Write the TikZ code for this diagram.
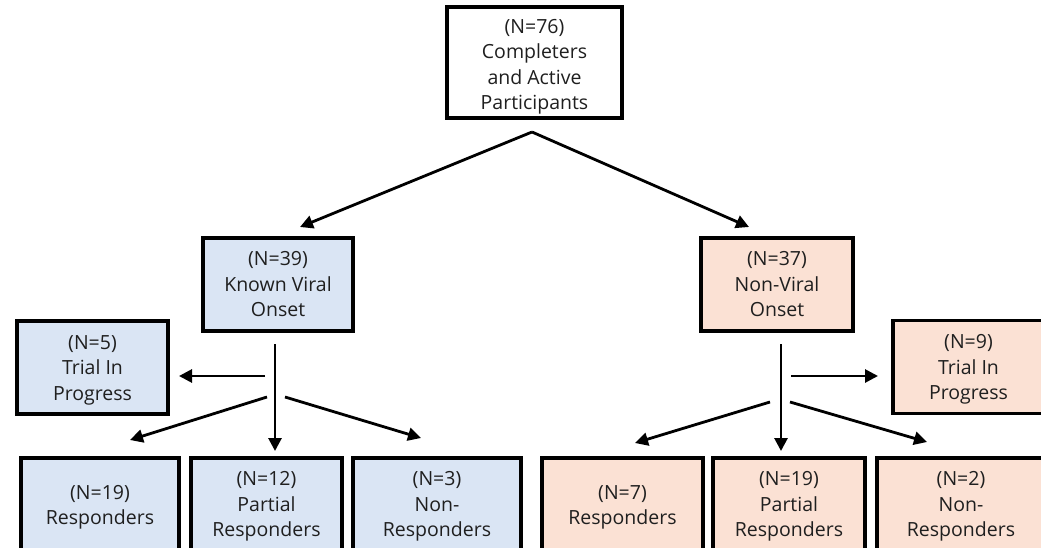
\documentclass[tikz,border=0pt]{standalone}
\usepackage{fontspec}
\setmainfont{Open Sans}
\usetikzlibrary{arrows.meta}
\definecolor{boxblue}{HTML}{DAE5F4}
\definecolor{boxpeach}{HTML}{FBE1D4}
\newcommand\Tup[1]{\rule{0pt}{#1}}
\tikzset{
  box/.style={draw=black, line width=3.1pt, align=center, inner sep=0pt,
    font=\fontsize{19.5}{25.5}\selectfont, text=black!88},
  bluebox/.style={box, fill=boxblue},
  peachbox/.style={box, fill=boxpeach},
  whitebox/.style={box, fill=white},
  arr/.style={line width=2.8pt, -{Triangle[length=13pt,width=13pt]}}
}
\begin{document}
\begin{tikzpicture}[x=1pt,y=-1pt]
\useasboundingbox (0,0) rectangle (1041,548);
\clip (0,0) rectangle (1041,548);
% top
\node[whitebox, minimum width=175pt, minimum height=111pt] (top) at (534.5,62.5)
  {\Tup{23pt}(N=76)\\Completers\\and Active\\Participants};
% middle
\node[bluebox, minimum width=150pt, minimum height=93pt] (kvo) at (278,284.5)
  {(N=39)\\Known Viral\\Onset};
\node[peachbox, minimum width=152pt, minimum height=93pt] (nvo) at (777,284.5)
  {(N=37)\\Non-Viral\\Onset};
% trial in progress
\node[bluebox, minimum width=151pt, minimum height=93pt] (tipl) at (92.5,367.5)
  {\Tup{19pt}(N=5)\\Trial In\\Progress};
\node[peachbox, minimum width=151pt, minimum height=93pt] (tipr) at (968.5,367)
  {\Tup{19pt}(N=9)\\Trial In\\Progress};
% bottom left
\node[bluebox, minimum width=158pt, minimum height=92pt] (rl) at (100,504)
  {\Tup{21pt}(N=19)\\Responders};
\node[bluebox, minimum width=151pt, minimum height=92pt] (pl) at (266.5,504)
  {\Tup{19pt}(N=12)\\Partial\\Responders};
\node[bluebox, minimum width=168pt, minimum height=92pt] (nl) at (437,504)
  {\Tup{19pt}(N=3)\\Non-\\Responders};
% bottom right
\node[peachbox, minimum width=161pt, minimum height=92pt] (rr) at (622.5,504)
  {\Tup{21pt}(N=7)\\Responders};
\node[peachbox, minimum width=152pt, minimum height=92pt] (pr) at (789,504)
  {\Tup{19pt}(N=19)\\Partial\\Responders};
\node[peachbox, minimum width=168pt, minimum height=92pt] (nr) at (961,504)
  {\Tup{19pt}(N=2)\\Non-\\Responders};
% connector points
\coordinate (apex) at (532,132);
\coordinate (apexL) at (300,227);
\coordinate (apexR) at (749,227);
\coordinate (lv0) at (275,344);
\coordinate (lv1) at (275,451);
\coordinate (lh0) at (265,376);
\coordinate (lh1) at (179,376);
\coordinate (ld0) at (267,397);
\coordinate (ld1) at (130,440);
\coordinate (le0) at (285,397);
\coordinate (le1) at (421,438);
\coordinate (rv0) at (781,344);
\coordinate (rv1) at (781,451);
\coordinate (rh0) at (791,376);
\coordinate (rh1) at (878,376);
\coordinate (rd0) at (770,402);
\coordinate (rd1) at (635,443);
\coordinate (re0) at (790,402);
\coordinate (re1) at (927,442);
% connectors
\draw[arr] (apex) -- (apexL);
\draw[arr] (apex) -- (apexR);
\draw[arr] (lv0) -- (lv1);
\draw[arr] (lh0) -- (lh1);
\draw[arr] (ld0) -- (ld1);
\draw[arr] (le0) -- (le1);
\draw[arr] (rv0) -- (rv1);
\draw[arr] (rh0) -- (rh1);
\draw[arr] (rd0) -- (rd1);
\draw[arr] (re0) -- (re1);
\end{tikzpicture}
\end{document}
